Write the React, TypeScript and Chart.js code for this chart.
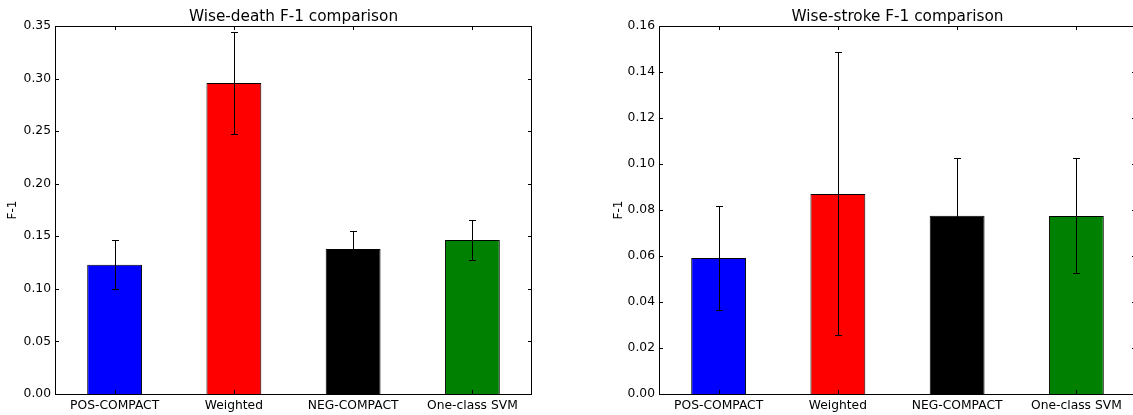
import { useEffect, useRef } from 'react';
import { Chart, registerables } from 'chart.js';

Chart.register(...registerables);

// Methods compared in both panels
const categories = ['POS-COMPACT', 'Weighted', 'NEG-COMPACT', 'One-class SVM'];
const barColors = ['#0000ff', '#ff0000', '#000000', '#008000'];

// Wise-death: mean F-1 and its error
const deathF1 = [0.123, 0.2957, 0.138, 0.1465];
const deathErr = [0.0235, 0.0487, 0.0175, 0.019];
const deathTicks = [0.0, 0.05, 0.1, 0.15, 0.2, 0.25, 0.3, 0.35];

// Wise-stroke: mean F-1 and its error
const strokeF1 = [0.0591, 0.087, 0.0775, 0.0774];
const strokeErr = [0.0225, 0.0615, 0.0249, 0.025];
const strokeTicks = [0.0, 0.02, 0.04, 0.06, 0.08, 0.1, 0.12, 0.14, 0.16];

const FONT = 'DejaVu Sans';

type PanelProps = {
  title: string;
  values: number[];
  errors: number[];
  ticks: number[];
  left: number;
  yTitleGap: number;
};

function Panel({ title, values, errors, ticks, left, yTitleGap }: PanelProps) {
  const ref = useRef<HTMLCanvasElement | null>(null);

  useEffect(() => {
    const canvas = ref.current;
    if (!canvas) return;

    // Axes frame, inward tick marks, error bars and texts in a classic style
    const decorations = {
      id: 'decorations',
      afterDatasetsDraw(chart: any) {
        const ctx = chart.ctx;
        const { left: l, right: r, top: t, bottom: b } = chart.chartArea;
        const y = chart.scales.y;
        const x = chart.scales.x;
        const meta = chart.getDatasetMeta(0);
        ctx.save();
        ctx.strokeStyle = '#000';
        ctx.lineWidth = 1;
        // error bars
        meta.data.forEach((bar: any, i: number) => {
          const cx = Math.round(bar.x) + 0.5;
          const yTop = Math.round(y.getPixelForValue(values[i] + errors[i])) + 0.5;
          const yBot = Math.round(y.getPixelForValue(values[i] - errors[i])) + 0.5;
          ctx.beginPath();
          ctx.moveTo(cx, yTop);
          ctx.lineTo(cx, yBot);
          ctx.moveTo(cx - 3.5, yTop);
          ctx.lineTo(cx + 3.5, yTop);
          ctx.moveTo(cx - 3.5, yBot);
          ctx.lineTo(cx + 3.5, yBot);
          ctx.stroke();
        });
        // frame
        ctx.strokeRect(Math.round(l) + 0.5, Math.round(t) + 0.5, Math.round(r - l) - 1, Math.round(b - t));
        // tick marks pointing inwards
        const len = 4;
        ctx.beginPath();
        y.ticks.forEach((tk: any) => {
          const py = Math.round(y.getPixelForValue(tk.value)) + 0.5;
          ctx.moveTo(l, py);
          ctx.lineTo(l + len, py);
          ctx.moveTo(r, py);
          ctx.lineTo(r - len, py);
        });
        x.ticks.forEach((_tk: any, i: number) => {
          const px = Math.round(x.getPixelForTick(i)) + 0.5;
          ctx.moveTo(px, b);
          ctx.lineTo(px, b - len);
          ctx.moveTo(px, t);
          ctx.lineTo(px, t + len);
        });
        ctx.stroke();
        ctx.restore();
      },
      afterDraw(chart: any) {
        const ctx = chart.ctx;
        const { left: l, right: r, top: t, bottom: b } = chart.chartArea;
        ctx.save();
        ctx.fillStyle = '#000';
        ctx.font = `15.3px "${FONT}"`;
        ctx.textAlign = 'center';
        ctx.textBaseline = 'alphabetic';
        ctx.fillText(title, (l + r) / 2, t - 5.5);
        ctx.font = `12px "${FONT}"`;
        ctx.textBaseline = 'middle';
        ctx.translate(l - yTitleGap, (t + b) / 2);
        ctx.rotate(-Math.PI / 2);
        ctx.fillText('F-1', 0, 0);
        ctx.restore();
      },
    };

    const chart = new Chart(canvas, {
      type: 'bar',
      data: {
        labels: categories,
        datasets: [
          {
            data: values,
            backgroundColor: barColors,
            borderColor: '#000',
            borderWidth: 1,
            barPercentage: 0.46,
            categoryPercentage: 1,
          },
        ],
      },
      options: {
        responsive: false,
        animation: false,
        layout: { padding: { top: 26, right: 8, bottom: 0, left: 0 } },
        plugins: {
          legend: { display: false },
          tooltip: { enabled: false },
          title: { display: false },
        },
        scales: {
          x: {
            offset: true,
            grid: { display: false, drawTicks: false },
            border: { display: false },
            ticks: {
              color: '#000',
              padding: 4,
              maxRotation: 0,
              autoSkip: false,
              font: { family: FONT, size: 12.3 },
            },
            afterFit: (s: any) => {
              s.height = 21;
            },
          },
          y: {
            min: ticks[0],
            max: ticks[ticks.length - 1],
            grid: { display: false, drawTicks: false },
            border: { display: false },
            ticks: {
              color: '#000',
              padding: 4,
              font: { family: FONT, size: 12.3 },
              callback: (v: any) => Number(v).toFixed(2),
            },
            afterBuildTicks: (s: any) => {
              s.ticks = ticks.map((v) => ({ value: v }));
            },
            afterFit: (s: any) => {
              s.width = 55;
            },
          },
        },
      },
      plugins: [decorations],
    });

    return () => chart.destroy();
  }, [title, values, errors, ticks, yTitleGap]);

  return (
    <canvas
      ref={ref}
      width={540}
      height={415}
      style={{ position: 'absolute', left, top: 0, width: 540, height: 415 }}
    />
  );
}

export default function App() {
  return (
    <div
      style={{
        position: 'absolute',
        left: 0,
        top: 0,
        width: 1133,
        height: 415,
        overflow: 'hidden',
        background: '#fff',
      }}
    >
      <Panel
        title="Wise-death F-1 comparison"
        values={deathF1}
        errors={deathErr}
        ticks={deathTicks}
        left={0}
        yTitleGap={42.5}
      />
      <Panel
        title="Wise-stroke F-1 comparison"
        values={strokeF1}
        errors={strokeErr}
        ticks={strokeTicks}
        left={604}
        yTitleGap={40.5}
      />
    </div>
  );
}
